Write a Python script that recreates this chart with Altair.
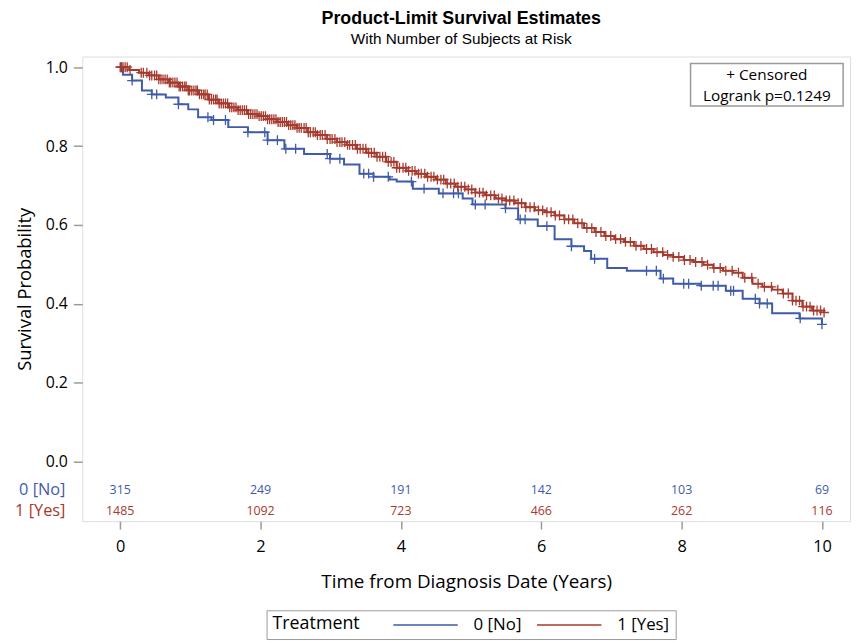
import altair as alt
import pandas as pd

groups = ["0 [No]", "1 [Yes]"]
colors = ["#3F5BA9", "#A63A2E"]

# Kaplan-Meier steps (years, survival probability)
no_time = [0.00, 0.04, 0.17, 0.31, 0.45, 0.65, 0.83, 0.97, 1.11, 1.30, 1.54, 1.82, 2.10, 2.34,
           2.62, 2.99, 3.19, 3.41, 3.61, 3.84, 3.94, 4.17, 4.54, 4.88, 5.02, 5.49, 5.67, 5.95,
           6.19, 6.43, 6.61, 6.71, 6.94, 7.22, 7.70, 7.88, 8.27, 8.63, 8.87, 9.11, 9.29, 9.68, 10.00]
no_surv = [1.000, 0.981, 0.966, 0.941, 0.931, 0.923, 0.906, 0.893, 0.873, 0.866, 0.848, 0.835,
           0.815, 0.793, 0.780, 0.768, 0.753, 0.730, 0.722, 0.715, 0.710, 0.692, 0.680, 0.667,
           0.652, 0.642, 0.614, 0.597, 0.564, 0.546, 0.534, 0.514, 0.491, 0.484, 0.464, 0.451,
           0.446, 0.433, 0.413, 0.401, 0.376, 0.363, 0.348]
yes_time = [0.00, 0.13, 0.27, 0.41, 0.55, 0.69, 0.83, 0.97, 1.11, 1.26, 1.40, 1.54, 1.68, 1.82,
            1.96, 2.10, 2.24, 2.38, 2.52, 2.67, 2.81, 2.95, 3.09, 3.23, 3.37, 3.51, 3.65, 3.79,
            3.94, 4.08, 4.22, 4.36, 4.50, 4.64, 4.78, 4.92, 5.06, 5.20, 5.35, 5.49, 5.63, 5.77,
            5.91, 6.05, 6.19, 6.33, 6.47, 6.61, 6.76, 6.90, 7.04, 7.18, 7.32, 7.46, 7.60, 7.74,
            7.88, 8.03, 8.17, 8.31, 8.45, 8.59, 8.73, 8.87, 9.01, 9.15, 9.29, 9.44, 9.58, 9.72,
            9.86, 10.03]
yes_surv = [1.000, 0.993, 0.986, 0.979, 0.969, 0.961, 0.951, 0.941, 0.931, 0.918, 0.908, 0.898,
            0.891, 0.881, 0.876, 0.868, 0.861, 0.853, 0.846, 0.835, 0.828, 0.818, 0.810, 0.803,
            0.793, 0.783, 0.773, 0.760, 0.745, 0.737, 0.730, 0.722, 0.715, 0.705, 0.697, 0.690,
            0.682, 0.675, 0.667, 0.662, 0.655, 0.645, 0.637, 0.632, 0.624, 0.614, 0.604, 0.592,
            0.582, 0.572, 0.564, 0.557, 0.547, 0.539, 0.531, 0.524, 0.519, 0.511, 0.506, 0.499,
            0.491, 0.484, 0.479, 0.466, 0.451, 0.443, 0.436, 0.426, 0.408, 0.393, 0.383, 0.378]

# censoring times (years)
no_cens = [0.01, 0.17, 0.45, 0.52, 0.83, 1.25, 1.33, 1.50, 1.82, 2.06, 2.10, 2.24, 2.36, 2.50,
           2.95, 2.99, 3.13, 3.47, 3.54, 3.61, 3.82, 4.15, 4.33, 4.60, 4.75, 4.82, 5.06, 5.20,
           5.49, 5.70, 5.77, 6.08, 6.43, 6.76, 7.50, 7.64, 7.74, 8.03, 8.10, 8.28, 8.45, 8.52,
           8.70, 8.74, 9.05, 9.11, 9.22, 9.69, 10.00]
yes_cens = [0.00, 0.02, 0.04, 0.07, 0.10, 0.14, 0.30, 0.33, 0.38, 0.42, 0.45, 0.49, 0.52, 0.55,
            0.58, 0.61, 0.64, 0.67, 0.70, 0.72, 0.75, 0.78, 0.81, 0.84, 0.86, 0.89, 0.92, 0.94,
            0.97, 0.99, 1.02, 1.05, 1.08, 1.10, 1.13, 1.16, 1.19, 1.21, 1.24, 1.27, 1.30, 1.33,
            1.36, 1.38, 1.41, 1.44, 1.47, 1.50, 1.53, 1.56, 1.59, 1.62, 1.65, 1.68, 1.71, 1.74,
            1.77, 1.80, 1.83, 1.86, 1.89, 1.92, 1.95, 1.98, 2.01, 2.04, 2.07, 2.10, 2.13, 2.16,
            2.19, 2.22, 2.25, 2.28, 2.31, 2.34, 2.37, 2.40, 2.43, 2.46, 2.49, 2.52, 2.55, 2.58,
            2.62, 2.65, 2.68, 2.71, 2.75, 2.78, 2.81, 2.85, 2.88, 2.92, 2.95, 2.99, 3.02, 3.06,
            3.09, 3.13, 3.16, 3.20, 3.24, 3.27, 3.31, 3.35, 3.38, 3.42, 3.46, 3.50, 3.54, 3.58,
            3.62, 3.66, 3.70, 3.74, 3.78, 3.82, 3.86, 3.90, 3.94, 3.98, 4.03, 4.07, 4.11, 4.16,
            4.20, 4.25, 4.29, 4.34, 4.38, 4.43, 4.47, 4.52, 4.57, 4.61, 4.66, 4.71, 4.76, 4.81,
            4.86, 4.91, 4.96, 5.01, 5.06, 5.12, 5.17, 5.22, 5.28, 5.33, 5.39, 5.44, 5.50, 5.55,
            5.61, 5.67, 5.72, 5.78, 5.84, 5.90, 5.96, 6.02, 6.08, 6.14, 6.20, 6.26, 6.33, 6.39,
            6.45, 6.52, 6.58, 6.65, 6.72, 6.78, 6.85, 6.92, 6.99, 7.06, 7.13, 7.20, 7.27, 7.35,
            7.42, 7.50, 7.57, 7.65, 7.73, 7.80, 7.88, 7.96, 8.04, 8.12, 8.20, 8.29, 8.37, 8.46,
            8.55, 8.63, 8.72, 8.81, 8.90, 9.00, 9.09, 9.18, 9.28, 9.37, 9.45, 9.52, 9.58, 9.63,
            9.68, 9.73, 9.78, 9.83, 9.88, 9.93, 9.98, 10.03]

risk_times = [0, 2, 4, 6, 8, 10]
risk_no = [315, 249, 191, 142, 103, 69]
risk_yes = [1485, 1092, 723, 466, 262, 116]

inset_lines = ["+ Censored", "Logrank p=0.1249"]
x_ticks = [0, 2, 4, 6, 8, 10]
y_ticks = [0.0, 0.2, 0.4, 0.6, 0.8, 1.0]

FONT = "Open Sans"
TFONT = "Liberation Sans"
GRAY = "#9a9a9a"


def surv_at(times, survs, t):
    s = survs[0]
    for ti, si in zip(times, survs):
        if ti <= t:
            s = si
        else:
            break
    return s


curves = pd.concat([
    pd.DataFrame({"time": no_time, "surv": no_surv, "group": groups[0]}),
    pd.DataFrame({"time": yes_time, "surv": yes_surv, "group": groups[1]}),
])

xscale = alt.Scale(domain=[-0.54, 10.4], nice=False, zero=False)
yscale = alt.Scale(domain=[-0.151, 1.027], nice=False, zero=False)

xenc = alt.X("time:Q", scale=xscale,
             axis=alt.Axis(title="Time from Diagnosis Date (Years)", values=x_ticks, format="d",
                           grid=False, domain=False, tickColor=GRAY, tickSize=8, tickWidth=1.5,
                           labelPadding=10, labelFontSize=16.5, titleFontSize=19,
                           titlePadding=17, titleFontWeight="normal", labelColor="#000",
                           titleColor="#000", labelFont=FONT, titleFont=FONT))
yenc = alt.Y("surv:Q", scale=yscale,
             axis=alt.Axis(title="Survival Probability", values=y_ticks, format=".1f",
                           grid=False, domain=False, tickColor=GRAY, tickSize=9, tickWidth=1.5,
                           labelPadding=6, labelFontSize=16, titleFontSize=18.5,
                           titlePadding=11, titleFontWeight="normal", labelColor="#000",
                           titleColor="#000", labelFont=FONT, titleFont=FONT))

lines = alt.Chart(curves).mark_line(interpolate="step-after", strokeWidth=2).encode(
    x=xenc, y=yenc,
    color=alt.Color("group:N", scale=alt.Scale(domain=groups, range=colors),
                    legend=alt.Legend(title="Treatment", orient="none", legendX=186, legendY=559,
                                      direction="horizontal", titleOrient="left",
                                      strokeColor=GRAY, padding=6,
                                      symbolType="M-6.5,0H6.5", symbolSize=100,
                                      symbolStrokeWidth=1.5, labelOffset=40, columnPadding=12,
                                      titlePadding=57, titleFontSize=18, labelFontSize=17,
                                      titleFontWeight="normal", titleFont=FONT, labelFont=FONT,
                                      titleColor="#000", labelColor="#000")),
    detail="group:N",
)

layers = [lines]
for g, col, ct, st, cens in [(groups[0], colors[0], no_time, no_surv, no_cens),
                             (groups[1], colors[1], yes_time, yes_surv, yes_cens)]:
    cdf = pd.DataFrame({"time": cens, "surv": [surv_at(ct, st, t) for t in cens]})
    layers.append(alt.Chart(cdf).mark_point(shape="M-1,0H1M0,-1V1", size=100, filled=False,
                                            strokeWidth=1.3, opacity=1, color=col).encode(
        x=alt.X("time:Q", scale=xscale), y=alt.Y("surv:Q", scale=yscale)))

# risk table
for g, col, counts, ypx in [(groups[0], colors[0], risk_no, 438),
                            (groups[1], colors[1], risk_yes, 459)]:
    rdf = pd.DataFrame({"time": risk_times, "n": counts})
    layers.append(alt.Chart(rdf).mark_text(fontSize=12.5, font=FONT, color=col,
                                           baseline="middle").encode(
        x=alt.X("time:Q", scale=xscale), y=alt.value(ypx), text="n:Q"))
    ldf = pd.DataFrame({"label": [g]})
    layers.append(alt.Chart(ldf).mark_text(fontSize=16.5, font=FONT, color=col, align="right",
                                           baseline="middle").encode(
        x=alt.value(-17), y=alt.value(ypx), text="label:N"))

# inset box
layers.append(alt.Chart(pd.DataFrame({"a": [0]})).mark_rect(fill="white", stroke=GRAY,
                                                            strokeWidth=1.5).encode(
    x=alt.value(614), x2=alt.value(768), y=alt.value(7), y2=alt.value(50)))
for i, txt in enumerate(inset_lines):
    layers.append(alt.Chart(pd.DataFrame({"t": [txt]})).mark_text(
        fontSize=15.5, font=FONT, color="#000", baseline="middle").encode(
        x=alt.value(691), y=alt.value(19 + 21 * i), text="t:N"))

chart = alt.layer(*layers).properties(
    width=775, height=469,
    autosize=alt.AutoSizeParams(type="none"),
    padding={"left": 75, "top": 46, "right": 5, "bottom": 118},
    title=alt.Title("Product-Limit Survival Estimates", subtitle="With Number of Subjects at Risk",
                    font=TFONT, fontSize=18, fontWeight="bold",
                    subtitleFont=TFONT, subtitleFontSize=15.5,
                    color="#000", subtitleColor="#000", anchor="middle", offset=9, dx=-5,
                    subtitlePadding=4),
).configure_view(stroke=GRAY, strokeWidth=1.5).configure(background="white")

chart.save("out.html", embed_options={"renderer": "svg", "actions": False})
